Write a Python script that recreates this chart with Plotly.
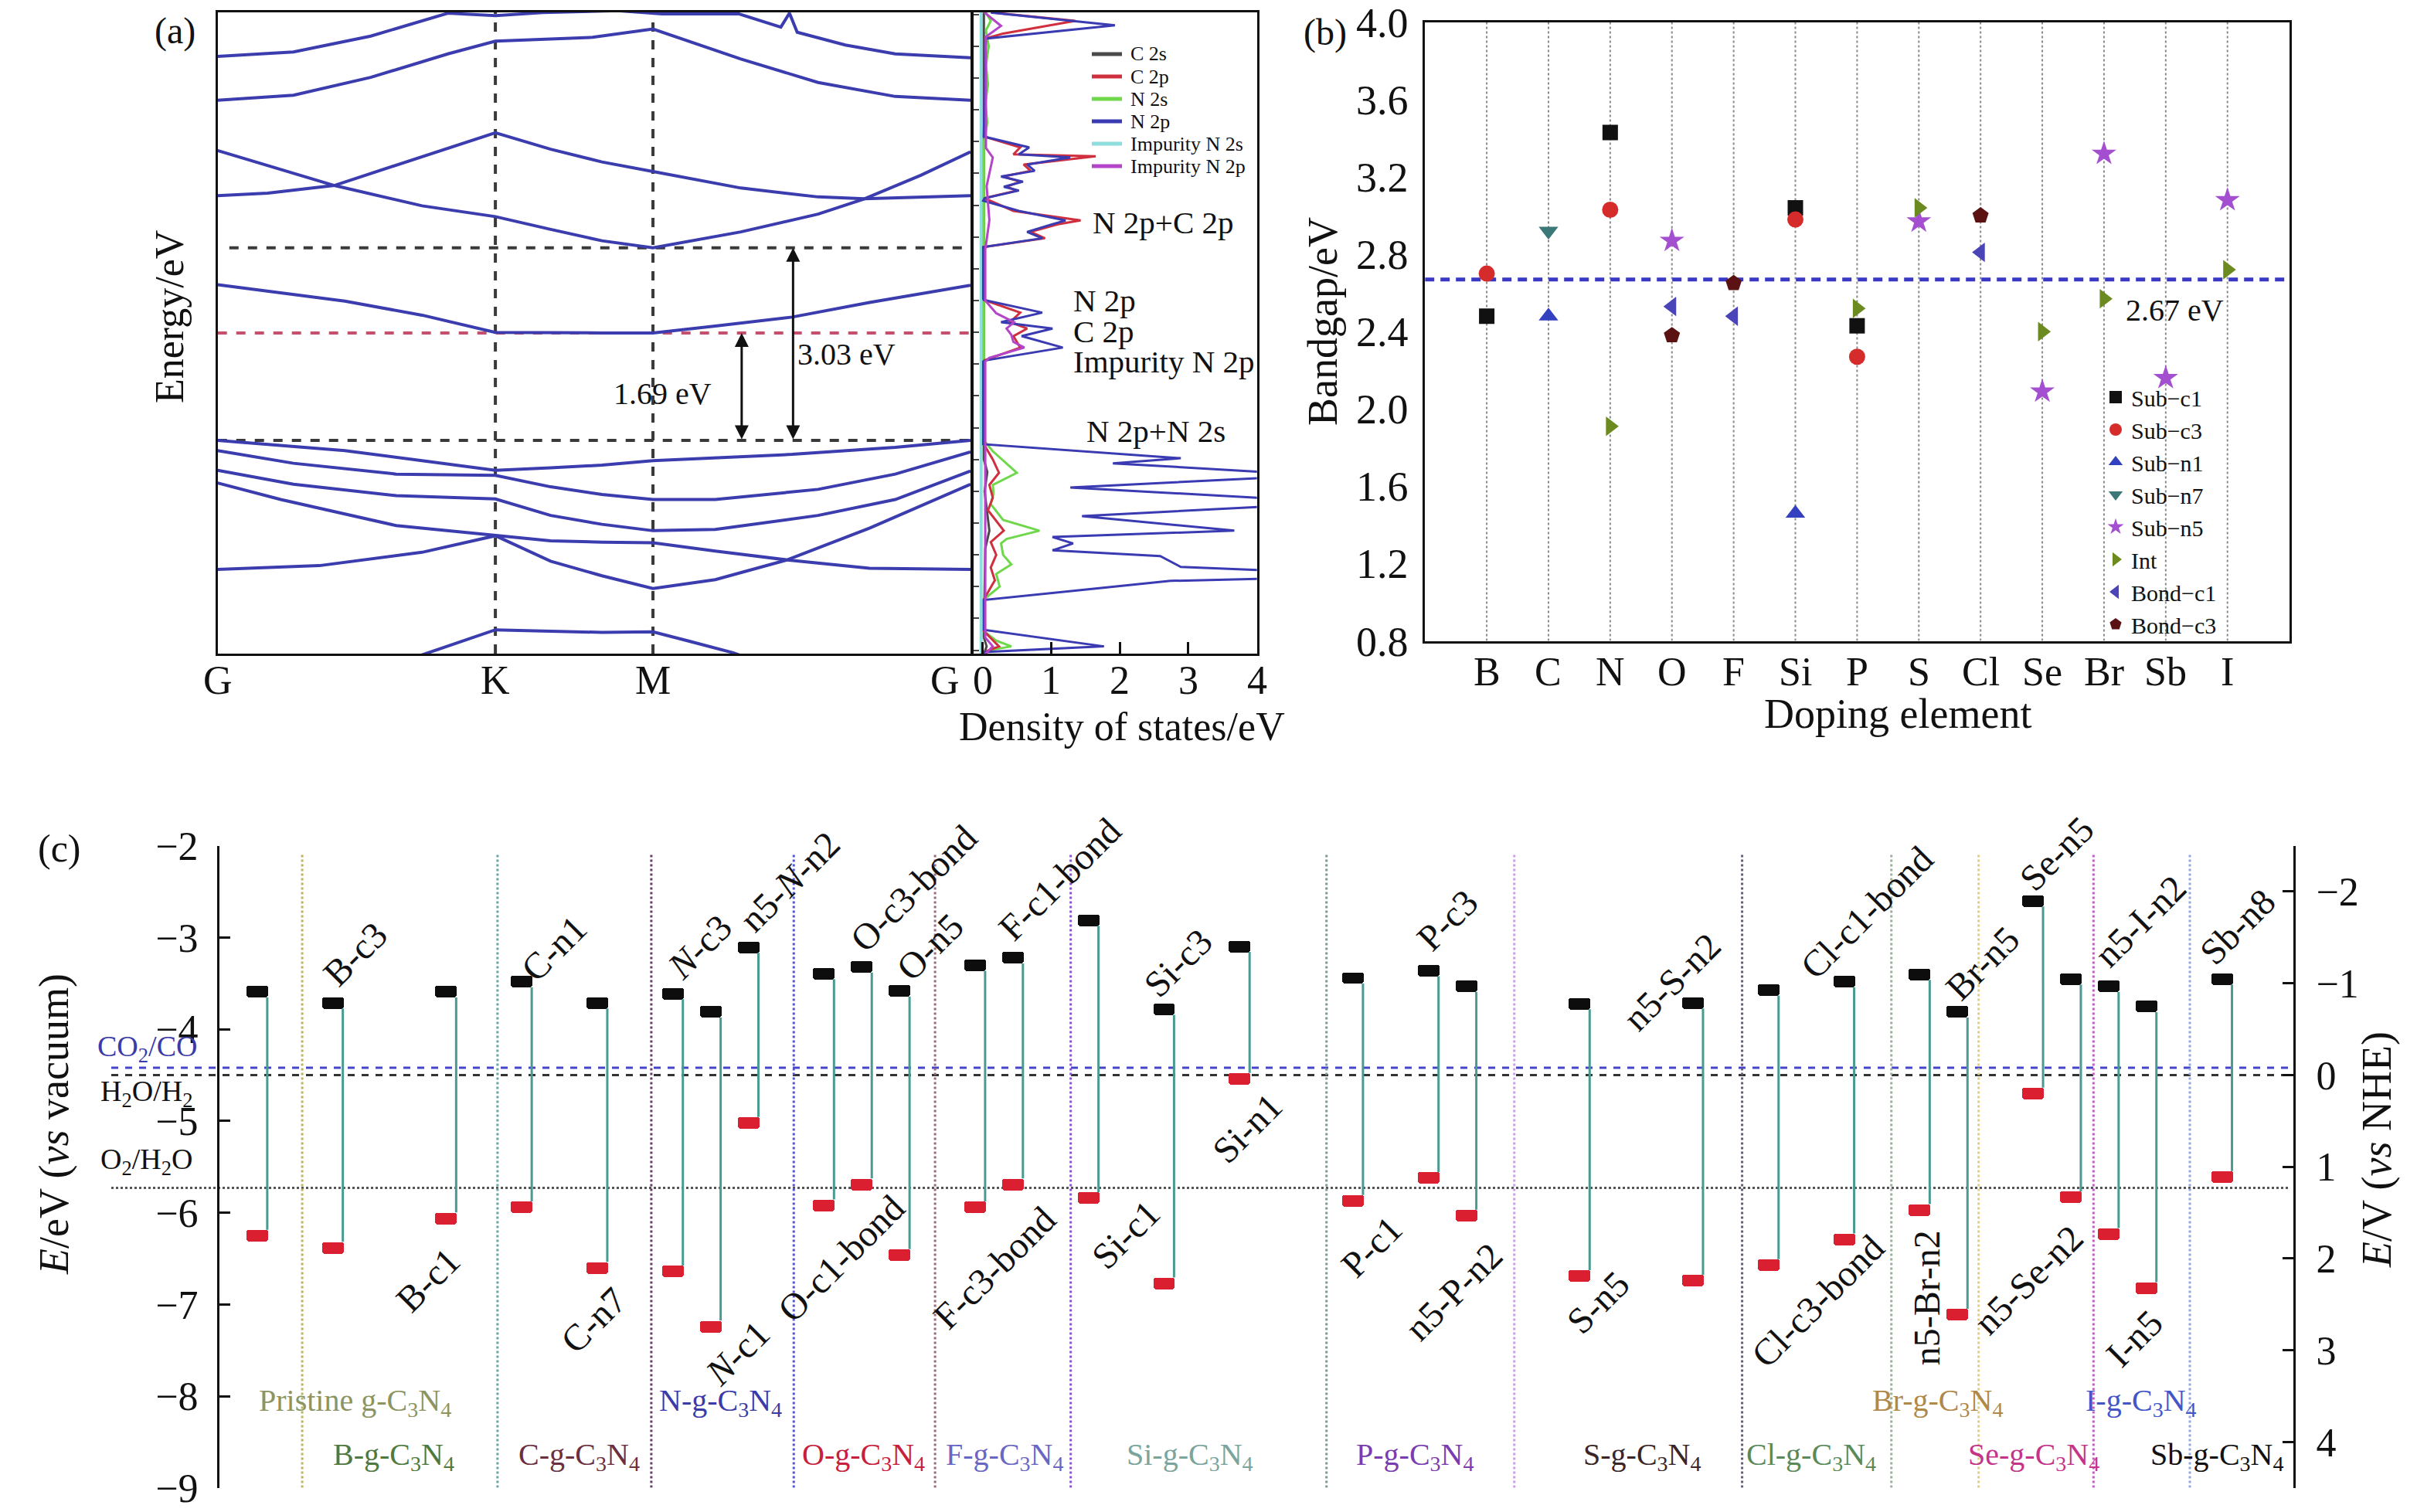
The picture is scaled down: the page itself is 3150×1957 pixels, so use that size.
import plotly.graph_objects as go

W, H = 3150, 1957
OFF = 8  # the page's default body margin shifts the figure by this many pixels
FONT = "Liberation Serif"
INK = "#111111"


def px(v):
    return (v - OFF) / W


def py(v):
    return 1 - (v - OFF) / H


# ======================= (a) band structure =======================
k_nodes = [0.0, 1.0, 1.5675, 2.711]
k_names = ["G", "K", "M", "G"]
gap_direct = 3.03
gap_impurity = 1.69
e_range = [-3.354, 6.733]

cb1_k = [0.0, 0.273, 0.551, 0.829, 1.0, 1.17, 1.44, 1.6, 1.876, 2.028, 2.059, 2.087, 2.26, 2.44, 2.711]
cb1_e = [6.04, 6.11, 6.36, 6.72, 6.68, 6.73, 6.76, 6.71, 6.71, 6.50, 6.72, 6.42, 6.22, 6.08, 6.02]
cb2_k = [0.0, 0.273, 0.551, 0.829, 1.0, 1.35, 1.5675, 1.884, 2.162, 2.44, 2.711]
cb2_e = [5.35, 5.43, 5.71, 6.08, 6.28, 6.34, 6.47, 6.00, 5.63, 5.41, 5.35]
cb3_k = [0.0, 0.18, 0.42, 0.736, 1.0, 1.199, 1.384, 1.5675, 1.884, 2.162, 2.329, 2.711]
cb3_e = [3.85, 3.89, 4.01, 4.46, 4.84, 4.58, 4.38, 4.23, 3.97, 3.83, 3.80, 3.85]
cb4_k = [0.0, 0.42, 0.736, 1.0, 1.199, 1.384, 1.5675, 1.884, 2.162, 2.329, 2.532, 2.711]
cb4_e = [4.56, 4.01, 3.69, 3.52, 3.32, 3.14, 3.03, 3.28, 3.56, 3.80, 4.17, 4.54]
imp_k = [0.0, 0.458, 0.736, 1.0, 1.384, 1.5675, 1.792, 2.069, 2.347, 2.711]
imp_e = [2.45, 2.19, 1.97, 1.70, 1.69, 1.69, 1.80, 1.94, 2.17, 2.44]
vb1_k = [0.0, 0.458, 0.736, 1.0, 1.199, 1.384, 1.5675, 2.069, 2.44, 2.711]
vb1_e = [0.0, -0.16, -0.32, -0.47, -0.43, -0.39, -0.32, -0.22, -0.11, 0.0]
vb2_k = [0.0, 0.273, 0.643, 1.0, 1.199, 1.384, 1.5675, 1.792, 2.162, 2.44, 2.711]
vb2_e = [-0.16, -0.36, -0.53, -0.55, -0.73, -0.85, -0.93, -0.93, -0.77, -0.53, -0.18]
vb3_k = [0.0, 0.273, 0.643, 1.0, 1.199, 1.384, 1.5675, 1.792, 2.162, 2.44, 2.711]
vb3_e = [-0.47, -0.69, -0.87, -0.92, -1.18, -1.32, -1.42, -1.40, -1.18, -0.93, -0.48]
vb4_k = [0.0, 0.227, 0.643, 1.0, 1.199, 1.384, 1.5675, 1.792, 2.051, 2.347, 2.711]
vb4_e = [-0.67, -0.93, -1.34, -1.50, -1.58, -1.60, -1.61, -1.74, -1.88, -2.01, -2.03]
vb5_k = [0.0, 0.366, 0.736, 1.0, 1.199, 1.384, 1.5675, 1.792, 2.051, 2.347, 2.711]
vb5_e = [-2.03, -1.97, -1.76, -1.50, -1.90, -2.13, -2.33, -2.19, -1.88, -1.38, -0.69]
vb6_k = [0.45, 0.754, 1.0, 1.384, 1.5675, 1.699, 1.856, 2.15]
vb6_e = [-3.80, -3.35, -2.98, -3.02, -3.01, -3.16, -3.34, -3.80]

# ---- partial density of states (E in eV, DOS in states/eV) ----
n2p_e = [6.73, 6.53, 6.32, 5.71, 4.78, 4.61, 4.50, 4.45, 4.34, 4.24, 4.15, 4.07, 3.99, 3.93, 3.81,
         3.77, 3.61, 3.46, 3.40, 3.28, 3.18, 3.04, 2.23, 2.21, 2.01, 1.86, 1.76, 1.64, 1.46, 1.26,
         1.24, -0.06, -0.28, -0.36, -0.51, -0.58, -0.74, -0.92, -1.03, -1.19, -1.42, -1.52, -1.62,
         -1.73, -1.82, -1.99, -2.05, -2.17, -2.21, -2.51, -2.98, -3.24, -3.33, -3.36]
n2p_d = [0.12, 1.93, 0.05, 0.03, 0.02, 0.68, 0.53, 1.28, 0.65, 0.76, 0.27, 0.59, 0.31, 0.53, 0.03,
         0.01, 0.53, 1.21, 1.02, 0.65, 0.87, 0.01, 0.01, 0.02, 0.87, 0.27, 1.02, 0.57, 1.17, 0.05,
         0.01, 0.01, 2.89, 1.90, 4.30, 4.30, 1.28, 4.30, 4.30, 1.45, 3.67, 1.02, 1.32,
         1.02, 2.59, 2.89, 4.30, 4.30, 2.74, 0.02, 0.02, 1.77, 0.02, 0.02]
c2p_e = [6.73, 6.60, 6.40, 6.32, 4.78, 4.61, 4.50, 4.47, 4.34, 4.24, 4.15, 4.07, 3.99, 3.93, 3.81,
         3.61, 3.46, 3.40, 3.28, 3.18, 3.04, 2.21, 2.01, 1.86, 1.76, 1.64, 1.46, 1.26, -0.06, -0.30,
         -0.51, -0.70, -0.90, -1.10, -1.42, -1.60, -1.80, -2.00, -2.20, -2.50, -3.00, -3.24, -3.33, -3.36]
c2p_d = [0.15, 1.35, 0.30, 0.04, 0.02, 0.55, 0.45, 1.65, 0.60, 0.70, 0.30, 0.55, 0.35, 0.50, 0.03,
         0.45, 1.43, 1.10, 0.70, 0.91, 0.02, 0.02, 0.55, 0.40, 0.65, 0.45, 0.55, 0.03, 0.02, 0.15,
         0.24, 0.10, 0.15, 0.08, 0.31, 0.12, 0.20, 0.12, 0.18, 0.02, 0.02, 0.24, 0.02, 0.02]
n2s_e = [6.73, 6.60, 6.45, 6.20, 5.90, 5.60, 5.30, 5.00, 4.70, 0.00, -0.17, -0.51, -0.70, -0.84, -1.00,
         -1.25, -1.42, -1.55, -1.62, -1.80, -1.95, -2.10, -2.30, -2.50, -3.00, -3.15, -3.24, -3.30, -3.36]
n2s_d = [0.05, 0.12, 0.05, 0.09, 0.05, 0.08, 0.04, 0.07, 0.02, 0.02, 0.15, 0.50, 0.15, 0.16, 0.12,
         0.30, 0.83, 0.35, 0.27, 0.30, 0.42, 0.20, 0.25, 0.02, 0.02, 0.20, 0.42, 0.10, 0.02]
in2p_e = [6.73, 6.52, 6.35, 4.60, 4.45, 4.00, 3.46, 3.00, 2.20, 2.00, 1.86, 1.76, 1.66, 1.55, 1.46,
          1.30, 1.24, -3.10, -3.24, -3.36]
in2p_d = [0.03, 0.27, 0.05, 0.05, 0.15, 0.06, 0.10, 0.04, 0.04, 0.20, 0.46, 0.35, 0.42, 0.45, 0.61,
          0.10, 0.04, 0.04, 0.15, 0.04]
c2s_e = [6.73, -0.30, -0.50, -0.80, -1.42, -1.70, -3.10, -3.24, -3.36]
c2s_d = [0.02, 0.02, 0.07, 0.03, 0.10, 0.04, 0.02, 0.06, 0.02]
in2s_e = [6.73, 2.50, 1.50, -3.36]
in2s_d = [-0.02, -0.02, -0.03, -0.02]
dos_names = ["C 2s", "C 2p", "N 2s", "N 2p", "Impurity N 2s", "Impurity N 2p"]
dos_ticks = [0, 1, 2, 3, 4]

# ======================= (b) band gaps =======================
elements = ["B", "C", "N", "O", "F", "Si", "P", "S", "Cl", "Se", "Br", "Sb", "I"]
gap_ticks = [0.8, 1.2, 1.6, 2.0, 2.4, 2.8, 3.2, 3.6, 4.0]
pristine_gap = 2.67
sub_c1_el = ["B", "N", "Si", "P"]
sub_c1_gap = [2.48, 3.43, 3.04, 2.43]
sub_c3_el = ["B", "N", "Si", "P"]
sub_c3_gap = [2.70, 3.03, 2.98, 2.27]
sub_n1_el = ["C", "Si"]
sub_n1_gap = [2.48, 1.46]
sub_n7_el = ["C"]
sub_n7_gap = [2.92]
sub_n5_el = ["O", "S", "Se", "Br", "Sb", "I"]
sub_n5_gap = [2.87, 2.97, 2.09, 3.32, 2.16, 3.08]
int_el = ["N", "P", "S", "Se", "Br", "I"]
int_gap = [1.91, 2.52, 3.04, 2.40, 2.57, 2.72]
bond_c1_el = ["O", "F", "Cl"]
bond_c1_gap = [2.53, 2.48, 2.81]
bond_c3_el = ["O", "F", "Cl"]
bond_c3_gap = [2.38, 2.65, 3.00]

# ======================= (c) band edges =======================
pc_names = ["", "B-c3", "B-c1", "C-n1", "C-n7", "<i>N</i>-c3", "<i>N</i>-c1", "n5-<i>N</i>-n2",
            "O-c1-bond", "O-c3-bond", "O-n5", "F-c3-bond", "F-c1-bond", "Si-c1", "Si-c3", "Si-n1",
            "P-c1", "P-c3", "n5-P-n2", "S-n5", "n5-S-n2", "Cl-c3-bond", "Cl-c1-bond", "n5-Br-n2",
            "Br-n5", "Se-n5", "n5-Se-n2", "n5-I-n2", "I-n5", "Sb-n8"]
pc_slot = [0, 2, 5, 7, 9, 11, 12, 13, 15, 16, 17, 19, 20, 22, 24, 26, 29, 31, 32, 35, 38, 40, 42,
           44, 45, 47, 48, 49, 50, 52]
pc_cb = [-3.59, -3.71, -3.59, -3.48, -3.71, -3.61, -3.81, -3.105, -3.39, -3.32, -3.58, -3.30, -3.22,
         -2.81, -3.78, -3.095, -3.44, -3.36, -3.53, -3.72, -3.71, -3.57, -3.48, -3.40, -3.81, -2.60,
         -3.45, -3.53, -3.75, -3.45]
pc_vb = [-6.25, -6.38, -6.06, -5.94, -6.60, -6.64, -7.24, -5.02, -5.92, -5.69, -6.46, -5.94, -5.69,
         -5.84, -6.77, -4.54, -5.87, -5.62, -6.03, -6.69, -6.74, -6.57, -6.29, -5.97, -7.11, -4.70,
         -5.83, -6.23, -6.82, -5.61]
# label centres (slot, E)
pc_lbl_slot = [None, 2.59, 4.52, 7.85, 8.90, 11.70, 12.70, 14.10, 15.46, 17.37, 17.80, 19.52, 21.24,
               22.97, 24.36, 26.19, 29.49, 31.50, 31.67, 35.49, 37.44, 41.31, 42.60, 44.18, 45.66,
               47.62, 46.87, 49.85, 49.67, 52.40]
pc_lbl_e = [None, -3.18, -6.73, -3.12, -7.17, -3.10, -7.53, -2.39, -6.50, -2.46, -3.10, -6.60, -2.36,
            -6.24, -3.28, -5.08, -6.37, -2.81, -6.86, -6.98, -3.48, -6.96, -2.72, -6.93, -3.28, -2.08,
            -6.73, -2.82, -7.37, -2.88]
redox_names = ["CO<sub>2</sub>/CO", "H<sub>2</sub>O/H<sub>2</sub>", "O<sub>2</sub>/H<sub>2</sub>O"]
redox_e = [-4.42, -4.50, -5.73]
redox_label_e = [-4.21, -4.70, -5.44]
nhe_zero = -4.5  # E(vacuum) of 0 V vs NHE
nhe_ticks = [-2, -1, 0, 1, 2, 3, 4]
group_names = ["Pristine g-C<sub>3</sub>N<sub>4</sub>", "B-g-C<sub>3</sub>N<sub>4</sub>",
               "C-g-C<sub>3</sub>N<sub>4</sub>", "N-g-C<sub>3</sub>N<sub>4</sub>",
               "O-g-C<sub>3</sub>N<sub>4</sub>", "F-g-C<sub>3</sub>N<sub>4</sub>",
               "Si-g-C<sub>3</sub>N<sub>4</sub>", "P-g-C<sub>3</sub>N<sub>4</sub>",
               "S-g-C<sub>3</sub>N<sub>4</sub>", "Cl-g-C<sub>3</sub>N<sub>4</sub>",
               "Br-g-C<sub>3</sub>N<sub>4</sub>", "Se-g-C<sub>3</sub>N<sub>4</sub>",
               "I-g-C<sub>3</sub>N<sub>4</sub>", "Sb-g-C<sub>3</sub>N<sub>4</sub>"]
group_slot = [2.58, 3.62, 8.51, 12.27, 16.04, 19.78, 24.68, 30.63, 36.65, 41.12, 44.48, 47.01, 49.86, 51.86]
group_row = [1, 2, 2, 1, 2, 2, 2, 2, 2, 2, 1, 2, 1, 2]
sep_slot = [1.19, 6.36, 10.43, 14.2, 17.94, 21.53, 28.3, 33.27, 39.3, 43.25, 45.56, 48.6, 51.15]

# ---------------- styles ----------------
BAND_C = "#3b3cae"
dos_colors = ["#4a4a4a", "#d0303e", "#6fd84a", "#3a3ab2", "#8fdede", "#b445c8"]
group_colors = ["#8c9461", "#4f7a3f", "#6b2f3f", "#3b3ba8", "#c8203c", "#6a66c4", "#7aa59c",
                "#7a3db0", "#3a2626", "#5a8a5a", "#b08848", "#c4358a", "#4455c8", "#111111"]
sep_colors = ["#b9b465", "#6fa3a3", "#6a3a6a", "#5555cc", "#9a6a7a", "#8855cc", "#7a9a9a",
              "#c8a0e0", "#6a5a7a", "#9ab09a", "#e2cf78", "#c060c0", "#90a8e0"]
redox_colors = ["#4545c8", "#333333", "#555555"]
redox_text_colors = ["#3a3aa8", INK, INK]
redox_dash = ["dash", "dash", "dot"]


def text(x, y, s, size, xref="paper", yref="paper", angle=0, xa="center", ya="middle",
         color=INK, **kw):
    return dict(x=x, y=y, xref=xref, yref=yref, text=s, showarrow=False, textangle=angle,
                xanchor=xa, yanchor=ya, font=dict(size=size, color=color, family=FONT), **kw)


fig = go.Figure()

# ---- (a) bands ----
for kk, ee in [(cb1_k, cb1_e), (cb2_k, cb2_e), (cb3_k, cb3_e), (cb4_k, cb4_e), (imp_k, imp_e),
               (vb1_k, vb1_e), (vb2_k, vb2_e), (vb3_k, vb3_e), (vb4_k, vb4_e), (vb5_k, vb5_e),
               (vb6_k, vb6_e)]:
    fig.add_trace(go.Scatter(x=kk, y=ee, mode="lines", line=dict(color=BAND_C, width=4),
                             showlegend=False, hoverinfo="skip", xaxis="x", yaxis="y"))

# ---- (a) DOS ----
dos_sets = [(c2s_e, c2s_d), (c2p_e, c2p_d), (n2s_e, n2s_d), (n2p_e, n2p_d), (in2s_e, in2s_d), (in2p_e, in2p_d)]
draw_order = [4, 0, 2, 1, 3, 5]
for i in draw_order:
    ee, dd = dos_sets[i]
    fig.add_trace(go.Scatter(x=dd, y=ee, mode="lines", name=dos_names[i],
                             line=dict(color=dos_colors[i], width=4 if i == 4 else 3),
                             showlegend=False, xaxis="x2", yaxis="y2"))

# ---- (b) scatter ----
series_b = [
    ("Sub\u2212c1", sub_c1_el, sub_c1_gap, "square", "#111111", 20),
    ("Sub\u2212c3", sub_c3_el, sub_c3_gap, "circle", "#d62b2b", 21),
    ("Sub\u2212n1", sub_n1_el, sub_n1_gap, "triangle-up", "#3340c0", 22),
    ("Sub\u2212n7", sub_n7_el, sub_n7_gap, "triangle-down", "#3d7878", 22),
    ("Sub\u2212n5", sub_n5_el, sub_n5_gap, "star", "#a34fd0", 24),
    ("Int", int_el, int_gap, "triangle-right", "#6b8a1f", 22),
    ("Bond\u2212c1", bond_c1_el, bond_c1_gap, "triangle-left", "#4a44b8", 22),
    ("Bond\u2212c3", bond_c3_el, bond_c3_gap, "pentagon", "#5a1212", 22),
]
for name, els, vals, sym, col, size in series_b:
    fig.add_trace(go.Scatter(x=[elements.index(e) for e in els], y=vals, mode="markers", name=name,
                             marker=dict(symbol=sym, color=col, size=size, line=dict(width=0)),
                             xaxis="x3", yaxis="y3"))

# ---- (c) band edges ----
RECT_W = 0.57
RECT_H = 0.126
cx, cy = [], []
for s, cb, vb in zip(pc_slot, pc_cb, pc_vb):
    cx += [s + RECT_W / 2 - 0.02, s + RECT_W / 2 - 0.02, None]
    cy += [cb - RECT_H / 2, vb + RECT_H / 2, None]
fig.add_trace(go.Scatter(x=cx, y=cy, mode="lines", line=dict(color="#4b9a92", width=3),
                         showlegend=False, hoverinfo="skip", xaxis="x4", yaxis="y4"))
fig.add_trace(go.Bar(x=pc_slot, y=[RECT_H] * len(pc_slot), base=[v - RECT_H / 2 for v in pc_cb],
                     width=RECT_W, marker=dict(color="#0d0d0d", line=dict(width=0), cornerradius=3),
                     showlegend=False, xaxis="x4", yaxis="y4"))
fig.add_trace(go.Bar(x=pc_slot, y=[RECT_H] * len(pc_slot), base=[v - RECT_H / 2 for v in pc_vb],
                     width=RECT_W, marker=dict(color="#d91f30", line=dict(width=0), cornerradius=3),
                     showlegend=False, xaxis="x4", yaxis="y4"))
# invisible trace to activate the NHE axis
fig.add_trace(go.Scatter(x=[pc_slot[0]], y=[nhe_zero - pc_cb[0]], mode="markers",
                         marker=dict(opacity=0), showlegend=False, hoverinfo="skip",
                         xaxis="x4", yaxis="y5"))

shapes = []
ann = []

# (a) reference lines
DASH = "12px,12px"
shapes.append(dict(type="line", xref="x", yref="y", x0=0.042, x1=k_nodes[-1], y0=gap_direct, y1=gap_direct,
                   line=dict(color="#3a3a3a", width=4, dash=DASH), layer="below"))
shapes.append(dict(type="line", xref="x", yref="y", x0=0, x1=k_nodes[-1], y0=gap_impurity, y1=gap_impurity,
                   line=dict(color="#c4506e", width=4, dash=DASH), layer="below"))
shapes.append(dict(type="line", xref="x", yref="y", x0=0, x1=k_nodes[-1], y0=0, y1=0,
                   line=dict(color="#3a3a3a", width=4, dash=DASH), layer="below"))
for kn in k_nodes[1:3]:
    shapes.append(dict(type="line", xref="x", yref="y", x0=kn, x1=kn, y0=e_range[0], y1=e_range[1],
                       line=dict(color="#3a3a3a", width=4, dash="12px,11px"), layer="below"))
# arrows
for kx, top in [(1.887, gap_impurity), (2.072, gap_direct)]:
    ann.append(dict(x=kx, y=top, ax=kx, ay=0, xref="x", yref="y", axref="x", ayref="y", text="",
                    showarrow=True, arrowhead=2, arrowside="end+start", arrowsize=1.2, arrowwidth=3,
                    arrowcolor=INK))
ann.append(text(1.603, 0.73, f"{gap_impurity:.2f} eV", 40, "x", "y"))
ann.append(text(2.265, 1.36, f"{gap_direct:.2f} eV", 40, "x", "y"))
# k labels
for i, (kn, nm) in enumerate(zip(k_nodes, k_names)):
    if i == len(k_nodes) - 1:
        ann.append(text(kn, py(880), nm, 52, "x", "paper", xa="right", xshift=-12))
    else:
        ann.append(text(kn, py(880), nm, 52, "x", "paper"))
for tv in dos_ticks:
    ann.append(text(tv, py(880), str(tv), 52, "x2", "paper"))
ann.append(text(px(220), py(410), "Energy/eV", 52, angle=-90))
ann.append(text(px(1452), py(940), "Density of states/eV", 52))
ann.append(text(px(226), py(40), "(a)", 48))
# DOS annotations
for txt, xx, ee in [("N 2p+C 2p", 1.58, 3.43), ("N 2p", 1.30, 2.20), ("C 2p", 1.30, 1.71),
                    ("Impurity N 2p", 1.30, 1.24), ("N 2p+N 2s", 1.49, 0.15)]:
    ann.append(text(xx, ee, txt, 41, "x2", "y2", xa="left"))
# DOS legend
for i, nm in enumerate(dos_names):
    yy = py(70 + 29 * i)
    shapes.append(dict(type="line", xref="paper", yref="paper", x0=px(1413), x1=px(1452), y0=yy, y1=yy,
                       line=dict(color=dos_colors[i], width=5)))
    ann.append(text(px(1461), yy, nm, 26, xa="left"))

# (b) guides and labels
for i, el in enumerate(elements):
    shapes.append(dict(type="line", xref="x3", yref="y3", x0=i, x1=i, y0=gap_ticks[0], y1=gap_ticks[-1],
                       line=dict(color="#8a8a8a", width=2, dash="dot"), layer="below"))
    ann.append(text(i, py(870), el, 52, "x3", "paper"))
shapes.append(dict(type="line", xref="x3", yref="y3", x0=-1, x1=13, y0=pristine_gap, y1=pristine_gap,
                   line=dict(color="#3838c4", width=5, dash="12px,8px"), layer="below"))
ann.append(text(11.15, 2.51, f"{pristine_gap:.2f} eV", 40, "x3", "y3"))
ann.append(text(px(1712), py(416), "Bandgap/eV", 54, angle=-90))
ann.append(text(px(2456), py(924), "Doping element", 54))
ann.append(text(px(1715), py(42), "(b)", 48))

# (c) reference levels
for nm, ev, lc, tc, ds, ty in zip(redox_names, redox_e, redox_colors, redox_text_colors, redox_dash,
                                  redox_label_e):
    shapes.append(dict(type="line", xref="paper", yref="y4", x0=px(144), x1=px(2962), y0=ev, y1=ev,
                       line=dict(color=lc, width=3, dash=ds), layer="below"))
    ann.append(text(px(190), ty, nm, 38, "paper", "y4", color=tc))
for s, c in zip(sep_slot, sep_colors):
    shapes.append(dict(type="line", xref="x4", yref="y4", x0=s, x1=s, y0=-2.1, y1=-9,
                       line=dict(color=c, width=3, dash="dot"), layer="below"))
for nm, s, r, c in zip(group_names, group_slot, group_row, group_colors):
    ann.append(text(s, -8.07 if r == 1 else -8.66, nm, 40, "x4", "y4", color=c))
for nm, ls, le in zip(pc_names, pc_lbl_slot, pc_lbl_e):
    if not nm:
        continue
    ann.append(text(ls, le, nm, 48, "x4", "y4", angle=-90 if nm == "n5-Br-n2" else -45))
ann.append(text(px(70), py(1455), "<i>E</i>/eV (<i>vs</i> vacuum)", 54, angle=-90))
ann.append(text(px(3076), py(1488), "<i>E</i>/V (<i>vs</i> NHE)", 54, angle=-90))
ann.append(text(px(77), py(1098), "(c)", 50))

frame = dict(showline=True, linecolor=INK, linewidth=3, mirror=True, showgrid=False, zeroline=False)

fig.update_layout(
    width=W, height=H, margin=dict(l=0, r=0, t=0, b=0, pad=0, autoexpand=False),
    paper_bgcolor="white", plot_bgcolor="rgba(0,0,0,0)",
    font=dict(family=FONT, color=INK),
    barmode="overlay", bargap=0,
    shapes=shapes, annotations=ann,
    showlegend=True,
    legend=dict(x=px(2718), y=py(488), xanchor="left", yanchor="top", bgcolor="rgba(0,0,0,0)",
                font=dict(size=30, color=INK), tracegroupgap=0),
    xaxis=dict(domain=[px(281.7), px(1256)], range=[0, k_nodes[-1]], showticklabels=False, ticks="",
               anchor="y", **frame),
    yaxis=dict(domain=[py(846), py(16)], range=e_range, showticklabels=False, ticks="", anchor="x", **frame),
    xaxis2=dict(domain=[px(1260), px(1626.7)], range=[-0.13, 4.0], tickvals=dos_ticks,
                ticks="inside", ticklen=15, tickwidth=3, tickcolor=INK, showticklabels=False,
                anchor="y2", **frame),
    yaxis2=dict(domain=[py(846), py(16)], range=e_range, showticklabels=False, ticks="inside",
                tick0=0.2, dtick=0.5, ticklen=7, tickwidth=2, tickcolor="#444", anchor="x2", **frame),
    xaxis3=dict(domain=[px(1844.2), px(2962.6)], range=[-1, 13], tickvals=list(range(len(elements))),
                showticklabels=False, ticks="", anchor="y3", **frame),
    yaxis3=dict(domain=[py(829.6), py(28.8)], range=[gap_ticks[0], gap_ticks[-1]], tickvals=gap_ticks,
                ticktext=[f"{v:.1f}" for v in gap_ticks], ticklabeloverflow="allow",
                ticks="", tickfont=dict(size=54), ticklabelstandoff=8, anchor="x3", **frame),
    xaxis4=dict(domain=[px(284), px(2968)], range=[-1.0, 53.89], visible=False, anchor="y4"),
    yaxis4=dict(domain=[py(1925.8), py(1094.6)], range=[-9, -2], dtick=1, ticks="inside", ticklen=14,
                tickwidth=3, tickcolor=INK, showline=True, linecolor=INK, linewidth=3, showgrid=False,
                zeroline=False, tickfont=dict(size=52), ticklabelstandoff=14, ticklabeloverflow="allow",
                anchor="x4"),
    yaxis5=dict(overlaying="y4", side="right", anchor="x4",
                range=[nhe_zero - (-9), nhe_zero - (-2)], tickvals=nhe_ticks,
                ticks="inside", ticklen=14, tickwidth=3, tickcolor=INK, showline=True, linecolor=INK,
                linewidth=3, showgrid=False, zeroline=False, tickfont=dict(size=52),
                ticklabelstandoff=16, ticklabeloverflow="allow"),
)

fig.write_html("out.html")
